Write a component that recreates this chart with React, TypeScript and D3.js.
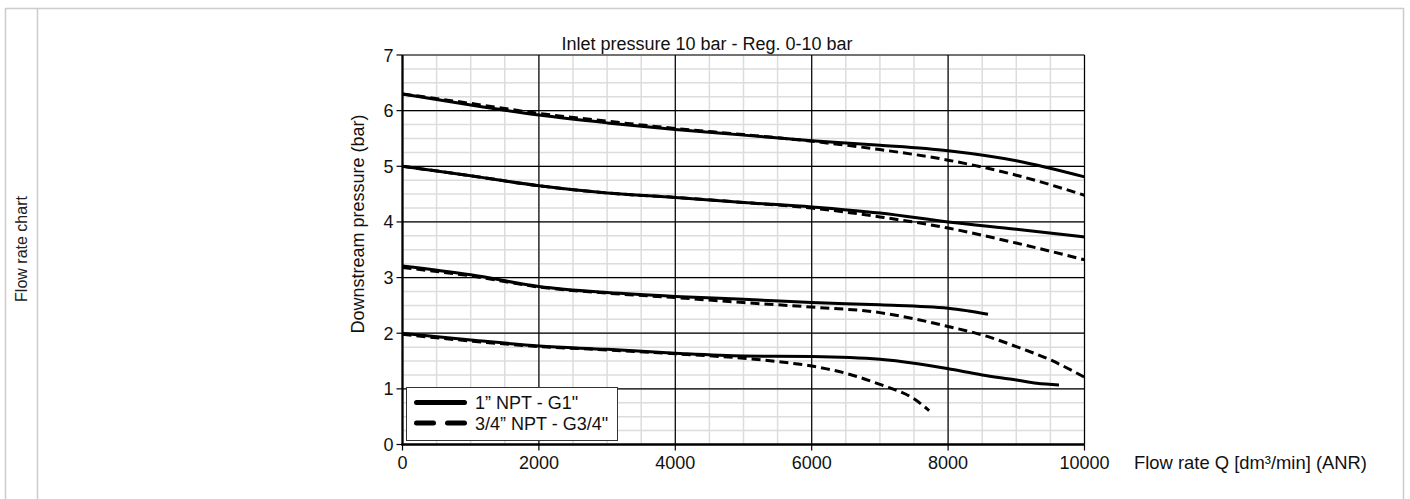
import React from "react";
import * as d3 from "d3";

// ---- data ----
const xTicks = [0, 2000, 4000, 6000, 8000, 10000];
const yTicks = [0, 1, 2, 3, 4, 5, 6, 7];

const flowA = [0, 1000, 2000, 3000, 4000, 5000, 6000, 7000, 8000, 9000, 10000];
const solid63 = [6.3, 6.1, 5.92, 5.78, 5.66, 5.56, 5.46, 5.38, 5.28, 5.1, 4.81];
const dashed63 = [6.3, 6.13, 5.95, 5.81, 5.68, 5.57, 5.45, 5.3, 5.11, 4.84, 4.48];
const solid50 = [5.0, 4.83, 4.65, 4.52, 4.44, 4.35, 4.27, 4.16, 4.0, 3.87, 3.73];
const dashed50 = [5.0, 4.83, 4.65, 4.52, 4.44, 4.35, 4.25, 4.09, 3.89, 3.62, 3.32];

const flowS32 = [0, 1000, 2000, 3000, 4000, 5000, 6000, 7000, 8000, 8300, 8585];
const solid32 = [3.21, 3.05, 2.84, 2.73, 2.66, 2.61, 2.55, 2.51, 2.45, 2.4, 2.34];
const flowD32 = [0, 1000, 2000, 3000, 4000, 5000, 6000, 7000, 7500, 8000, 8500, 9000, 9500, 10000];
const dashed32 = [3.18, 3.03, 2.83, 2.72, 2.64, 2.55, 2.47, 2.37, 2.26, 2.12, 1.97, 1.76, 1.52, 1.21];

const flowS20 = [0, 1000, 2000, 3000, 4000, 5000, 6000, 7000, 7500, 8000, 8500, 9000, 9300, 9626];
const solid20 = [2.0, 1.88, 1.77, 1.71, 1.64, 1.59, 1.58, 1.53, 1.46, 1.36, 1.25, 1.16, 1.1, 1.07];
const flowD20 = [0, 1000, 2000, 3000, 4000, 5000, 5500, 6000, 6500, 7000, 7500, 7722];
const dashed20 = [1.98, 1.86, 1.76, 1.7, 1.63, 1.55, 1.49, 1.41, 1.28, 1.08, 0.82, 0.61];

const legendLabels = ["1\u201D NPT - G1\"", "3/4\u201D NPT - G3/4\""];

const FONT = "'Liberation Sans', Arial, Helvetica, sans-serif";

export default function App() {
  const x = d3.scaleLinear().domain([0, 10000]).range([402.5, 1084.5]);
  const y = d3.scaleLinear().domain([0, 7]).range([444.5, 55]);

  const minorX = d3.range(0, 10001, 500);
  const minorY = d3.range(0, 7.001, 0.25);

  const line = (xs: number[], ys: number[]) =>
    d3
      .line<number>()
      .x((_, i) => x(xs[i]))
      .y((d) => y(d))
      .curve(d3.curveMonotoneX)(ys) || "";

  const series = [
    { xs: flowA, ys: solid63, dashed: false },
    { xs: flowA, ys: dashed63, dashed: true },
    { xs: flowA, ys: solid50, dashed: false },
    { xs: flowA, ys: dashed50, dashed: true },
    { xs: flowS32, ys: solid32, dashed: false },
    { xs: flowD32, ys: dashed32, dashed: true },
    { xs: flowS20, ys: solid20, dashed: false },
    { xs: flowD20, ys: dashed20, dashed: true },
  ];

  const [x0, x1] = x.range();
  const [y0, y1] = y.range();

  return (
    <svg
      width={1410}
      height={499}
      style={{ position: "absolute", left: 0, top: 0, background: "#fff" }}
      fontFamily={FONT}
    >
      {/* page frame */}
      <g stroke="#cccccc" strokeWidth={1.5} fill="none">
        <line x1={5} y1={8.5} x2={1404} y2={8.5} />
        <line x1={5.5} y1={8} x2={5.5} y2={499} />
        <line x1={37.5} y1={8} x2={37.5} y2={499} />
        <line x1={1403.5} y1={8} x2={1403.5} y2={499} />
      </g>
      <text
        transform="translate(27,249) rotate(-90)"
        textAnchor="middle"
        fontSize={16}
        fill="#222"
      >
        Flow rate chart
      </text>

      {/* minor grid */}
      <g stroke="#dcdcdc" strokeWidth={1.5}>
        {minorX.map((v) => (
          <line key={"mx" + v} x1={x(v)} x2={x(v)} y1={y1} y2={y0} />
        ))}
        {minorY.map((v) => (
          <line key={"my" + v} x1={x0} x2={x1} y1={y(v)} y2={y(v)} />
        ))}
      </g>
      {/* major grid */}
      <g stroke="#000" strokeWidth={1.2}>
        {xTicks.map((v) => (
          <line key={"gx" + v} x1={x(v)} x2={x(v)} y1={y1} y2={y0} />
        ))}
        {yTicks.map((v) => (
          <line key={"gy" + v} x1={x0} x2={x1} y1={y(v)} y2={y(v)} />
        ))}
      </g>

      {/* curves */}
      <g fill="none" stroke="#000" strokeWidth={3}>
        {series.map((s, i) => (
          <path
            key={i}
            d={line(s.xs, s.ys)}
            strokeDasharray={s.dashed ? "9 5" : undefined}
          />
        ))}
      </g>

      {/* axes */}
      <g stroke="#000">
        <line x1={x0} x2={x0} y1={y1} y2={y0 + 1} strokeWidth={2.2} />
        <line x1={x0 - 1} x2={x1} y1={y0} y2={y0} strokeWidth={2.5} />
        {yTicks.map((v) => (
          <line key={"ty" + v} x1={x0 - 6} x2={x0} y1={y(v)} y2={y(v)} strokeWidth={1.2} />
        ))}
        {xTicks.map((v) => (
          <line key={"tx" + v} x1={x(v)} x2={x(v)} y1={y0} y2={y0 + 6} strokeWidth={1.2} />
        ))}
      </g>
      <g fontSize={18} fill="#111">
        {yTicks.map((v) => (
          <text key={"ly" + v} x={x0 - 9} y={y(v) + 6.5} textAnchor="end">
            {v}
          </text>
        ))}
        {xTicks.map((v) => (
          <text key={"lx" + v} x={x(v)} y={469} textAnchor="middle">
            {v}
          </text>
        ))}
        <text x={1134} y={469} fontSize={18.4}>
          Flow rate Q [dm³/min] (ANR)
        </text>
        <text transform="translate(364,224) rotate(-90)" textAnchor="middle">
          Downstream pressure (bar)
        </text>
        <text x={707} y={50} textAnchor="middle">
          Inlet pressure 10 bar - Reg. 0-10 bar
        </text>
      </g>

      {/* legend */}
      <g>
        <rect x={406.5} y={387.5} width={211} height={53} fill="#fff" stroke="#333" strokeWidth={1} />
        <line x1={416.5} x2={464.5} y1={402.5} y2={402.5} stroke="#000" strokeWidth={5} strokeLinecap="round" />
        <line
          x1={416.5}
          x2={464.5}
          y1={423}
          y2={423}
          stroke="#000"
          strokeWidth={5}
          strokeLinecap="round"
          strokeDasharray="17 14"
        />
        <g fontSize={18} fill="#111">
          {legendLabels.map((l, i) => (
            <text key={l} x={475} y={409 + i * 20.7}>
              {l}
            </text>
          ))}
        </g>
      </g>
    </svg>
  );
}
